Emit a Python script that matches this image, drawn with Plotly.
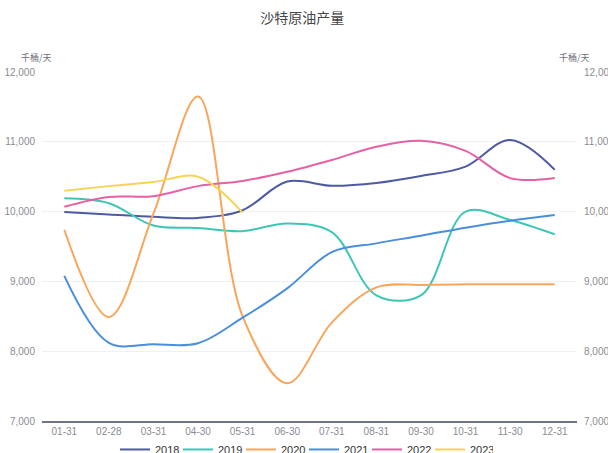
import plotly.graph_objects as go

categories = ["01-31", "02-28", "03-31", "04-30", "05-31", "06-30",
              "07-31", "08-31", "09-30", "10-31", "11-30", "12-31"]

y2018 = [9995, 9960, 9925, 9910, 10020, 10430, 10370, 10410, 10510, 10645, 11025, 10600]
y2019 = [10190, 10120, 9800, 9765, 9720, 9830, 9705, 8800, 8800, 10000, 9880, 9675]
y2020 = [9740, 8490, 9970, 11650, 8500, 7540, 8410, 8915, 8950, 8958, 8960, 8960]
y2021 = [9080, 8120, 8100, 8115, 8480, 8900, 9420, 9545, 9655, 9770, 9870, 9950]
y2022 = [10070, 10210, 10220, 10365, 10440, 10570, 10740, 10930, 11015, 10870, 10480, 10480]
y2023 = [10300, 10365, 10425, 10500, 9985]

series = [
    ("2018", y2018, "#4e5aa3"),
    ("2019", y2019, "#3ec6b5"),
    ("2020", y2020, "#f7a65c"),
    ("2021", y2021, "#4a8fd9"),
    ("2022", y2022, "#e462a3"),
    ("2023", y2023, "#f6d456"),
]

tick_vals = [7000, 8000, 9000, 10000, 11000, 12000]
tick_text = ["7,000", "8,000", "9,000", "10,000", "11,000", "12,000"]

fig = go.Figure()
for name, vals, color in series:
    fig.add_trace(go.Scatter(
        x=categories[:len(vals)], y=vals, name=name, mode="lines",
        line=dict(color=color, width=2, shape="spline", smoothing=1.0),
    ))

# invisible trace to anchor right axis
fig.add_trace(go.Scatter(x=categories, y=[None] * len(categories), yaxis="y2",
                         showlegend=False, hoverinfo="skip", mode="lines"))

tickfont = dict(family="Liberation Sans, Arial, sans-serif", size=10, color="#8a8c94")

fig.update_layout(
    width=608, height=453,
    margin=dict(l=42, r=31, t=72, b=32, autoexpand=False),
    paper_bgcolor="white", plot_bgcolor="white",
    title=dict(text="沙特原油产量", x=0.497, xanchor="center", y=0.96, yanchor="middle",
               font=dict(family="Noto Sans CJK SC, sans-serif", size=14, color="#464646")),
    xaxis=dict(
        type="category", range=[-0.5, 11.5], showgrid=False,
        showline=True, linecolor="#6e7389", linewidth=1.5,
        ticks="", tickfont=tickfont, zeroline=False, fixedrange=True,
    ),
    yaxis=dict(
        range=[7000, 12000], tickvals=tick_vals, ticktext=tick_text,
        showgrid=True, gridcolor="#eef0f6", gridwidth=1, zeroline=False,
        showline=False, tickfont=tickfont, ticklabelstandoff=6,
    ),
    yaxis2=dict(
        range=[7000, 12000], tickvals=tick_vals, ticktext=tick_text,
        overlaying="y", side="right", showgrid=False, zeroline=False,
        showline=False, tickfont=tickfont, ticklabelstandoff=6,
    ),
    legend=dict(orientation="h", x=0.5, xanchor="center", xref="container",
                y=-0.04, yanchor="top", yref="paper", maxheight=200,
                bgcolor="rgba(0,0,0,0)",
                font=dict(family="Liberation Sans, Arial, sans-serif", size=11, color="#333"),
                itemwidth=30, entrywidth=18, tracegroupgap=0),
    showlegend=True,
)

unitfont = dict(family="Noto Sans CJK SC, sans-serif", size=9, color="#6e7079")
fig.add_annotation(text="千桶/天", xref="paper", yref="paper", x=-0.01, y=1.0,
                   xanchor="center", yanchor="bottom", yshift=6, showarrow=False, font=unitfont)
fig.add_annotation(text="千桶/天", xref="paper", yref="paper", x=0.995, y=1.0,
                   xanchor="center", yanchor="bottom", yshift=6, showarrow=False, font=unitfont)

fig.write_html("out.html")
